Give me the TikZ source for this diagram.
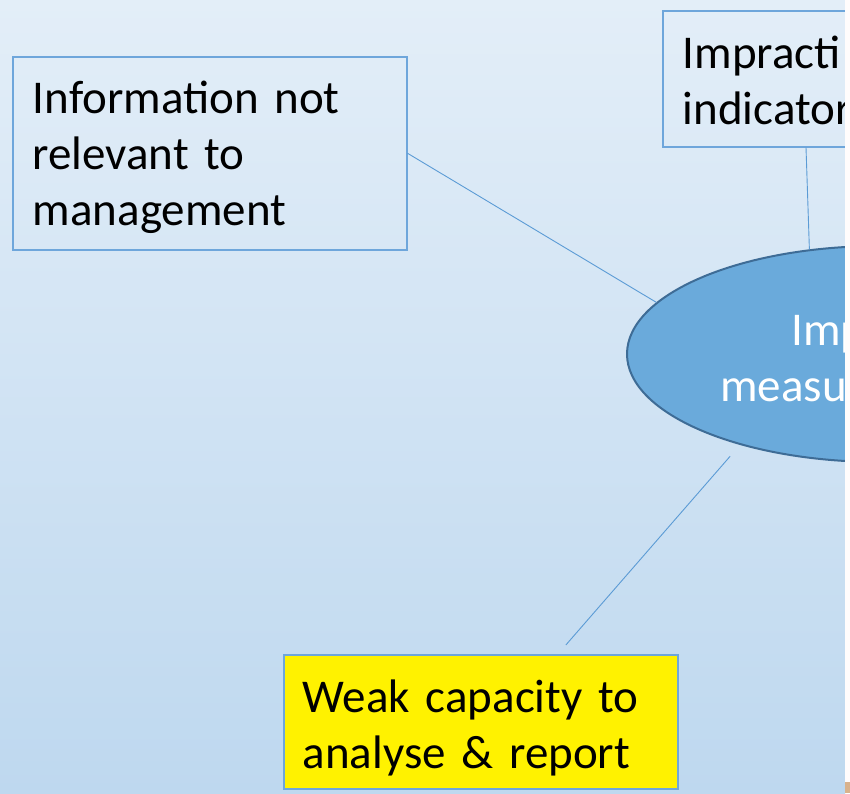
\documentclass[tikz,border=0pt]{standalone}
\usepackage{fontspec}
\setmainfont{Carlito}
\usetikzlibrary{shapes.geometric, positioning, calc}

\definecolor{bgtop}{RGB}{227,238,248}
\definecolor{bgbot}{RGB}{190,216,239}
\definecolor{boxedge}{RGB}{110,166,219}
\definecolor{linkblue}{RGB}{91,155,213}
\definecolor{ellfill}{RGB}{106,170,219}
\definecolor{elledge}{RGB}{62,108,150}

\begin{document}
\begin{tikzpicture}[x=1pt, y=-1pt,
    box/.style={rectangle, draw=boxedge, line width=1.5pt, anchor=north west,
      inner xsep=20pt, inner ysep=0pt, align=left,
      font=\fontsize{47}{56}\selectfont},
    cause/.style={ellipse, draw=elledge, fill=ellfill, line width=2pt,
      minimum width=506pt, minimum height=216pt, inner sep=0pt},
    elltext/.style={anchor=base west, text=white, inner sep=0pt,
      font=\fontsize{47}{56}\selectfont},
    link/.style={draw=linkblue, line width=0.9pt}]

  \useasboundingbox (0,0) rectangle (850,793);
  \clip (0,0) rectangle (850,793);
  \shade[top color=bgtop, bottom color=bgbot] (0,0) rectangle (845,793);

  \node[box, text width=354pt, text height=57pt, text depth=136pt]
    (info) at (12,56) {Information not\\relevant to\\management};
  \node[box, text width=300pt, text height=58pt, text depth=78pt]
    (impr) at (662,10) {Impracti\\indicator};
  \node[box, fill=yellow, inner xsep=19pt, text width=356pt, text height=58pt, text depth=76pt]
    (weak) at (283,654) {Weak capacity to\\analyse \& report};

  \node[cause] (imp) at (880,354) {};
  \node[elltext] (impA) at (791,345) {Imp};
  \node[elltext] (impB) at (720,401) {measu};

  % strip of the photo at the right edge
  \fill[white!96!pink] (845,0) rectangle (850,793);
  \fill[brown!60!white] (845,782) rectangle (850,793);

  \draw[link] (info.east) -- (imp.167);
  \draw[link] ([xshift=144pt]impr.south west) -- (imp.124);
  \draw[link, shorten <=12pt, shorten >=15pt] ([xshift=275pt]weak.north west) -- (imp.213);
\end{tikzpicture}
\end{document}
